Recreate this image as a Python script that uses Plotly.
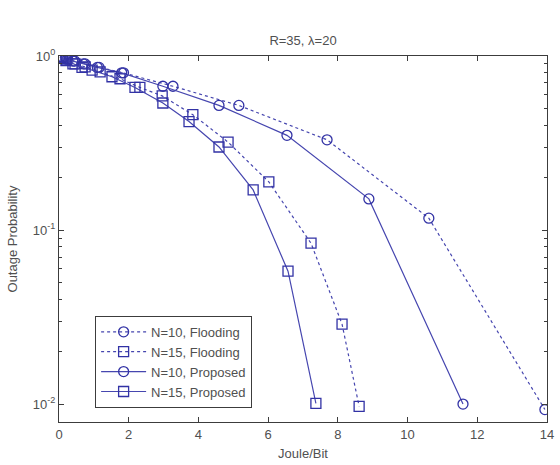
import plotly.graph_objects as go

# ---- data ----
n10_flood_x = [0.03, 0.12, 0.25, 0.45, 0.75, 1.15, 1.85, 3.27, 5.16, 7.69, 10.61, 13.94]
n10_flood_y = [0.99, 0.975, 0.96, 0.935, 0.90, 0.86, 0.80, 0.67, 0.52, 0.33, 0.117, 0.0093]

n15_flood_x = [0.03, 0.1, 0.22, 0.46, 0.75, 1.18, 1.75, 2.32, 2.96, 3.84, 4.85, 6.02, 7.23, 8.12, 8.61]
n15_flood_y = [0.99, 0.97, 0.95, 0.90, 0.865, 0.81, 0.74, 0.66, 0.59, 0.46, 0.32, 0.189, 0.084, 0.0288, 0.0097]

n10_prop_x = [0.03, 0.1, 0.2, 0.4, 0.7, 1.1, 1.8, 2.98, 4.59, 6.54, 8.89, 11.59]
n10_prop_y = [0.99, 0.975, 0.96, 0.935, 0.90, 0.86, 0.80, 0.67, 0.52, 0.35, 0.151, 0.010]

n15_prop_x = [0.03, 0.08, 0.2, 0.4, 0.66, 0.95, 1.52, 2.18, 2.98, 3.73, 4.59, 5.57, 6.57, 7.37]
n15_prop_y = [0.99, 0.97, 0.94, 0.90, 0.86, 0.83, 0.76, 0.66, 0.537, 0.42, 0.30, 0.17, 0.058, 0.0101]

series_names = ["N=10, Flooding", "N=15, Flooding", "N=10, Proposed", "N=15, Proposed"]

title_text = "R=35, λ=20"
x_label = "Joule/Bit"
y_label = "Outage Probability"
x_ticks = [0, 2, 4, 6, 8, 10, 12, 14]
y_ticks = [1, 0.1, 0.01]
y_tick_text = ["10<sup>0</sup>", "10<sup>-1</sup>", "10<sup>-2</sup>"]
y_minor = [m * d for d in (0.01, 0.1) for m in range(2, 10)]

# ---- styling ----
line_col = "rgb(70,70,175)"
mark_col = "rgb(50,50,165)"
text_col = "rgb(80,80,80)"
axis_col = "rgb(60,60,60)"
font_fam = "Liberation Sans, Arial, sans-serif"

fig = go.Figure()

specs = [
    (n10_flood_x, n10_flood_y, "circle-open", "3px,3px"),
    (n15_flood_x, n15_flood_y, "square-open", "3px,3px"),
    (n10_prop_x, n10_prop_y, "circle-open", "solid"),
    (n15_prop_x, n15_prop_y, "square-open", "solid"),
]
for (xs, ys, sym, dash), name in zip(specs, series_names):
    fig.add_trace(go.Scatter(
        x=xs, y=ys, mode="lines+markers", name=name,
        line=dict(color=line_col, width=1.2, dash=dash),
        marker=dict(symbol=sym, size=10, color=mark_col, line=dict(width=1.3, color=mark_col)),
    ))

fig.update_layout(
    width=560, height=465,
    margin=dict(l=59, r=13, t=56, b=43),
    paper_bgcolor="white", plot_bgcolor="white",
    font=dict(family=font_fam, size=12, color=text_col),
    title=dict(text=title_text, x=(303) / 560, xanchor="center", y=1 - 40 / 465, yanchor="middle",
               font=dict(size=13, color=text_col)),
    showlegend=True,
    legend=dict(
        x=0.074, y=0.29, xanchor="left", yanchor="top",
        bgcolor="white", bordercolor=axis_col, borderwidth=1,
        font=dict(size=13, color=text_col), itemwidth=45,
        tracegroupgap=0,
    ),
)

fig.update_xaxes(
    range=[0, 14], tickvals=x_ticks, ticks="inside", ticklen=5, tickcolor=axis_col,
    showline=True, linecolor=axis_col, linewidth=1.2, mirror="ticks",
    showgrid=False, zeroline=False, automargin=False,
    title=dict(text=x_label, standoff=8, font=dict(size=13, color=text_col)),
    tickfont=dict(size=13, color=text_col),
)
fig.update_yaxes(
    type="log", range=[-2.103, 0], tickvals=y_ticks, ticktext=y_tick_text,
    ticks="inside", ticklen=5, tickcolor=axis_col,
    showline=True, linecolor=axis_col, linewidth=1.2, mirror="ticks",
    showgrid=False, zeroline=False, automargin=False,
    minor=dict(tickvals=y_minor, ticks="inside", ticklen=3, tickcolor=axis_col, showgrid=False),
    title=dict(text=y_label, standoff=12, font=dict(size=13, color=text_col)),
    tickfont=dict(size=13, color=text_col),
)

fig.write_html("out.html")
